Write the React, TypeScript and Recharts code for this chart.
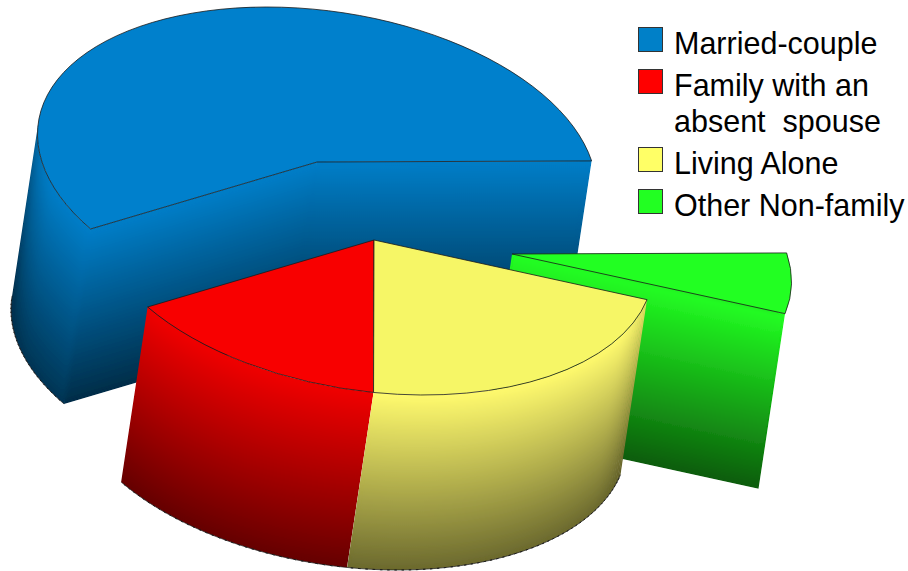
import { Legend, Pie, PieChart, Sector } from "recharts"

const labels = ["Married-couple", "Family with an absent  spouse", "Living Alone", "Other Non-family"]
const shares = [57, 15, 21.6, 6.4]

const chartData = labels.map((name, i) => ({ name, value: shares[i] }))

const legendColors = ["#0080c8", "#ff0000", "#ffff66", "#22ff22"]
const topColors = ["#0080cc", "#f80000", "#f6f666", "#22ff22"]
const wallColors = [
  [0, 126, 200],
  [240, 0, 0],
  [255, 250, 110],
  [34, 255, 34],
]

// the tilted view: circle -> sheared ellipse, walls pushed down and a bit left
const RADIUS = 275
const SHEAR = 50 / 275
const SQUASH = 155 / 275
const DEPTH = { x: -26.5, y: 175 }

const shade = (c: number[], k: number) => `rgb(${c.map((v) => Math.round(v * k)).join(",")})`

function project(cx: number, cy: number, deg: number) {
  const t = (deg * Math.PI) / 180
  const x = RADIUS * Math.cos(t)
  const y = RADIUS * Math.sin(t)
  return { x: cx + x + SHEAR * y, y: cy + SQUASH * y }
}

type Pt = { x: number; y: number }
type Wall = { id: string; a: Pt; b: Pt; top: number; bottom: number }

const quadPath = (a: Pt, b: Pt) =>
  `M${a.x},${a.y}L${b.x},${b.y}L${b.x + DEPTH.x},${b.y + DEPTH.y}L${a.x + DEPTH.x},${a.y + DEPTH.y}Z`

function WallQuad({ id, a, b, color, top, bottom }: Wall & { color: number[] }) {
  const dx = b.x - a.x
  const dy = b.y - a.y
  const len = Math.hypot(dx, dy)
  const nx = -dy / len
  const ny = dx / len
  const off = DEPTH.x * nx + DEPTH.y * ny
  return (
    <>
      <linearGradient id={id} gradientUnits="userSpaceOnUse" x1={a.x} y1={a.y} x2={a.x + nx * off} y2={a.y + ny * off}>
        <stop offset="0" stopColor={shade(color, top)} />
        <stop offset="1" stopColor={shade(color, bottom)} />
      </linearGradient>
      <path d={quadPath(a, b)} fill={`url(#${id})`} stroke={`url(#${id})`} strokeWidth={0.4} />
    </>
  )
}

function wedgeShape(group: string, names: string[], withCuts: boolean, withArc: boolean) {
  return (props: any) => {
    const { cx, cy, startAngle, endAngle, index } = props
    const name = labels[index]
    if (!names.includes(name)) return <g />
    // recharts angles run counter-clockwise, screen t runs clockwise
    const from = -endAngle
    const to = -startAngle
    const color = wallColors[index]
    const step = 1.5
    const prefix = `${group}-${index}`
    const walls: Wall[] = []
    const bottomEdge: string[] = []
    const center = { x: cx, y: cy }
    if (withCuts) {
      walls.push({ id: `${prefix}-cut1`, a: center, b: project(cx, cy, from), top: 1, bottom: 0.36 })
      walls.push({ id: `${prefix}-cut2`, a: center, b: project(cx, cy, to), top: 1, bottom: 0.36 })
    }
    let n = 0
    for (let t = from; withArc && t < to; t += step) {
      const a = project(cx, cy, t)
      const b = project(cx, cy, Math.min(t + step + 0.5, to))
      const dx = b.x - a.x
      const dy = b.y - a.y
      const facing = -(dx * DEPTH.y - dy * DEPTH.x) / (Math.hypot(dx, dy) * Math.hypot(DEPTH.x, DEPTH.y))
      if (facing <= 0) continue
      const lit = 0.62 + 0.38 * Math.min(1, Math.sqrt(facing * 1.6))
      walls.push({ id: `${prefix}-s${n++}`, a, b, top: lit, bottom: lit * 0.42 })
      bottomEdge.push(`${a.x + DEPTH.x},${a.y + DEPTH.y}`, `${b.x + DEPTH.x},${b.y + DEPTH.y}`)
    }
    const matrix = `matrix(1,0,${SHEAR},${SQUASH},${-SHEAR * cy},${cy - SQUASH * cy})`
    return (
      <g>
        <defs>
          <filter id={`${prefix}-soft`} x="-10%" y="-10%" width="120%" height="120%">
            <feGaussianBlur in="SourceGraphic" stdDeviation="2.5" result="soft" />
            <feMerge>
              <feMergeNode in="SourceGraphic" />
              <feMergeNode in="soft" />
            </feMerge>
          </filter>
          <clipPath id={`${prefix}-clip`}>
            {walls.map((w) => (
              <path key={w.id} d={quadPath(w.a, w.b)} />
            ))}
          </clipPath>
        </defs>
        <g clipPath={`url(#${prefix}-clip)`}>
          <g filter={`url(#${prefix}-soft)`}>
            {walls.map((w) => (
              <WallQuad key={w.id} {...w} color={color} />
            ))}
          </g>
        </g>
        <polyline points={bottomEdge.join(" ")} fill="none" stroke="#1c1c1c" strokeWidth={0.7} />
        <g transform={matrix}>
          <Sector
            cx={cx}
            cy={cy}
            innerRadius={0}
            outerRadius={RADIUS}
            startAngle={startAngle}
            endAngle={endAngle}
            fill={topColors[index]}
            stroke="#1a1a1a"
            strokeWidth={0.8}
            vectorEffect="non-scaling-stroke"
          />
        </g>
      </g>
    )
  }
}

function LegendBox() {
  return (
    <div style={{ fontFamily: "'Liberation Sans'", fontSize: 30.5, lineHeight: "36px", color: "#000" }}>
      {labels.map((name, i) => (
        <div key={name} style={{ display: "flex", marginBottom: 6 }}>
          <span
            style={{
              width: 23,
              height: 23,
              flex: "none",
              marginTop: 2,
              marginRight: 11,
              background: legendColors[i],
              border: "1px solid #333",
              boxSizing: "content-box",
            }}
          />
          <span style={{ whiteSpace: "pre-wrap", width: 235 }}>{name}</span>
        </div>
      ))}
    </div>
  )
}

const pieProps = {
  data: chartData,
  dataKey: "value",
  nameKey: "name",
  startAngle: 0.4,
  endAngle: 360.4,
  outerRadius: RADIUS,
  stroke: "none",
  isAnimationActive: false,
  legendType: "none" as const,
}

export default function App() {
  return (
    <div style={{ position: "absolute", left: 0, top: 0, width: 908, height: 571, background: "#fff" }}>
      <PieChart width={908} height={571} margin={{ top: 0, right: 0, bottom: 0, left: 0 }}>
        <Pie {...pieProps} cx={317} cy={162} shape={wedgeShape("back", ["Married-couple"], true, true)} />
        <Pie {...pieProps} cx={512} cy={254} shape={wedgeShape("side", ["Other Non-family"], true, false)} />
        <Pie
          {...pieProps}
          cx={374}
          cy={240}
          shape={wedgeShape("front", ["Family with an absent  spouse", "Living Alone"], false, true)}
        />
        <Legend
          content={<LegendBox />}
          layout="vertical"
          verticalAlign="middle"
          align="center"
          wrapperStyle={{ left: 638, top: 25, width: 270 }}
        />
      </PieChart>
    </div>
  )
}
